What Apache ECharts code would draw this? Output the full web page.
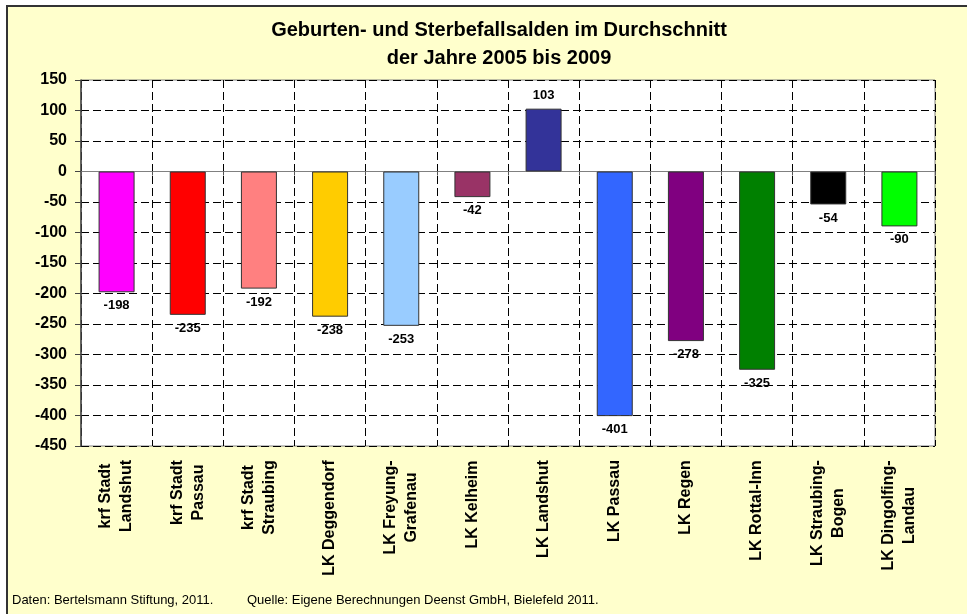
<!DOCTYPE html>
<html>
<head>
<meta charset="utf-8">
<script src="https://cdn.jsdelivr.net/npm/echarts@6/dist/echarts.min.js"></script>
<style>
  html, body { margin: 0; padding: 0; background: #fff; }
  #frame { position: absolute; left: 6px; top: 5px; width: 970px; height: 620px;
           background: #FFFFCC; border-left: 2px solid #333; border-top: 2px solid #333; }
  #main { position: absolute; left: 0; top: 0; width: 967px; height: 614px; }
</style>
</head>
<body>
<div id="frame"></div>
<div id="main"></div>
<script>
// Kreise / Landkreise
const regions = [
  'krf Stadt\nLandshut', 'krf Stadt\nPassau', 'krf Stadt\nStraubing', 'LK Deggendorf',
  'LK Freyung-\nGrafenau', 'LK Kelheim', 'LK Landshut', 'LK Passau', 'LK Regen',
  'LK Rottal-Inn', 'LK Straubing-\nBogen', 'LK Dingolfing-\nLandau'
];
// Saldo Geburten - Sterbefaelle, Durchschnitt 2005-2009
const saldo = [-198, -235, -192, -238, -253, -42, 103, -401, -278, -325, -54, -90];
const barColors = ['#FF00FF', '#FF0000', '#FF8080', '#FFCC00', '#99CCFF', '#993366',
  '#333399', '#3366FF', '#800080', '#008000', '#000000', '#00FF00'];
const yTicks = { min: -450, max: 150, step: 50 };

const font = "'Liberation Sans', Arial, sans-serif";
const chart = echarts.init(document.getElementById('main'));

// zeilen der achsenbeschriftung zentrieren (rich-token mit fester breite)
const ctx = document.createElement('canvas').getContext('2d');
ctx.font = 'bold 16px ' + font;
const rich = {};
regions.forEach(function (r, i) {
  const ws = r.split('\n').map(function (s) { return ctx.measureText(s).width; });
  rich['c' + i] = {
    fontFamily: font, fontSize: 16, fontWeight: 'bold', color: '#000',
    lineHeight: 21, width: Math.ceil(Math.max.apply(null, ws)), align: 'center'
  };
});

const option = {
  backgroundColor: 'transparent',
  animation: false,
  title: {
    text: 'Geburten- und Sterbefallsalden im Durchschnitt\nder Jahre 2005 bis 2009',
    left: 494,
    top: 11,
    textAlign: 'center',
    textStyle: { fontFamily: font, fontSize: 20, fontWeight: 'bold', color: '#000', lineHeight: 28 }
  },
  grid: {
    left: 81, top: 80, right: 32, bottom: 168,
    show: true, backgroundColor: '#fff', borderColor: '#808080', borderWidth: 1
  },
  xAxis: [
    {
      // nulllinie mit ticks und senkrechten strichlinien
      type: 'category',
      data: regions,
      axisLine: { onZero: true, lineStyle: { color: '#808080', width: 1 } },
      axisTick: { show: true, interval: 0, length: 4, lineStyle: { color: '#555' } },
      axisLabel: { show: false },
      splitLine: { show: true, interval: 0, lineStyle: { color: '#000', type: [8, 4], width: 1 } }
    },
    {
      // beschriftung unten
      type: 'category',
      data: regions,
      position: 'bottom',
      axisLine: { show: false, onZero: false },
      axisTick: { show: false },
      splitLine: { show: false },
      axisLabel: {
        interval: 0,
        rotate: 90,
        margin: 14,
        formatter: function (v, idx) {
          return v.split('\n').map(function (s) { return '{c' + idx + '|' + s + '}'; }).join('\n');
        },
        rich: rich
      }
    }
  ],
  yAxis: {
    type: 'value',
    min: yTicks.min,
    max: yTicks.max,
    interval: yTicks.step,
    axisLine: { show: true, lineStyle: { color: '#444', width: 1.5 } },
    axisTick: { show: true, length: 6, lineStyle: { color: '#444' } },
    axisLabel: { margin: 14, fontFamily: font, fontSize: 16, fontWeight: 'bold', color: '#000' },
    splitLine: { show: true, lineStyle: { color: '#000', type: [8, 4], width: 1 } }
  },
  graphic: [
    {
      type: 'text', left: 12, top: 594,
      style: { text: 'Daten: Bertelsmann Stiftung, 2011.', font: '13px ' + font, fill: '#000' }
    },
    {
      type: 'text', left: 247, top: 594,
      style: { text: 'Quelle: Eigene Berechnungen Deenst GmbH, Bielefeld 2011.', font: '13px ' + font, fill: '#000' }
    }
  ],
  series: [
    {
      type: 'bar',
      xAxisIndex: 0,
      barWidth: 36,
      data: saldo.map(function (v, i) {
        return {
          value: v,
          itemStyle: { color: barColors[i], borderColor: '#333', borderWidth: 1 },
          label: { position: v < 0 ? 'bottom' : 'top' }
        };
      }),
      label: {
        show: true,
        distance: 7,
        fontFamily: font,
        fontSize: 13,
        fontWeight: 'bold',
        color: '#000'
      }
    }
  ]
};

chart.setOption(option);
</script>
</body>
</html>
